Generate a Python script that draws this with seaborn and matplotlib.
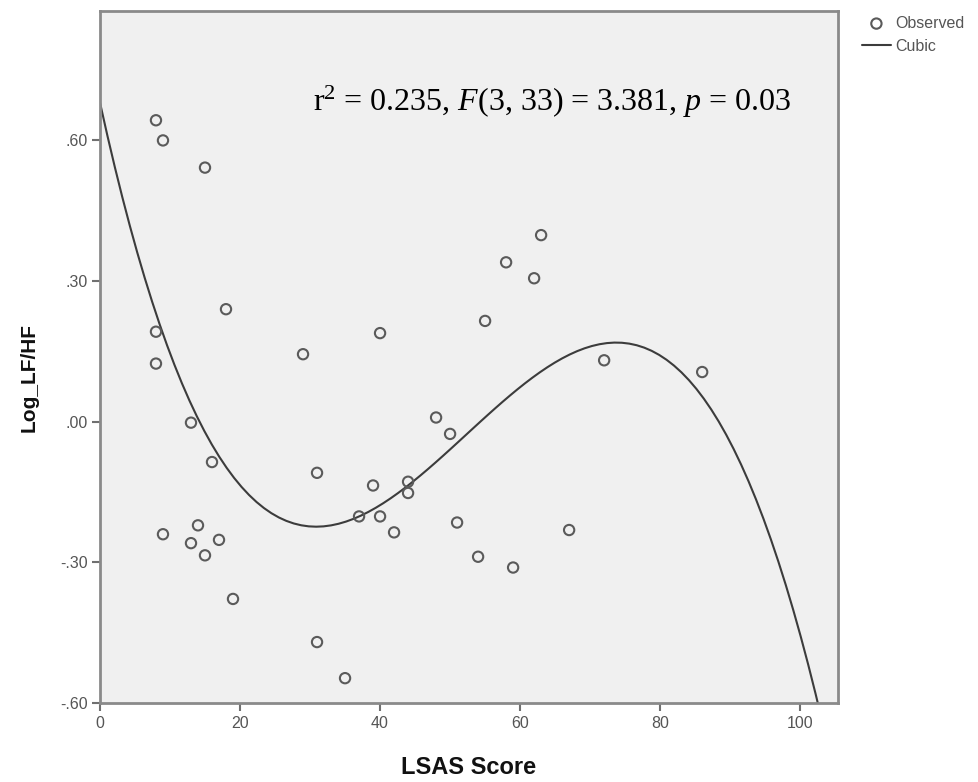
import numpy as np
import pandas as pd
import seaborn as sns
import matplotlib.pyplot as plt

# LSAS score vs Log_LF/HF
lsas = [8, 9, 15, 18, 8, 8, 13, 16, 9, 14, 13, 15, 17, 19,
        29, 31, 31, 35, 37, 39, 40, 40, 42, 44, 44, 48, 50, 51,
        54, 55, 58, 59, 62, 63, 67, 72, 86]
log_lfhf = [0.643, 0.600, 0.542, 0.240, 0.192, 0.124, -0.002, -0.086, -0.240, -0.221,
            -0.259, -0.285, -0.252, -0.378, 0.144, -0.109, -0.470, -0.547, -0.202, -0.136,
            0.189, -0.202, -0.236, -0.128, -0.152, 0.009, -0.026, -0.215, -0.288, 0.215,
            0.340, -0.311, 0.306, 0.398, -0.231, 0.131, 0.106]

xticks = [0, 20, 40, 60, 80, 100]
yticks = [-0.60, -0.30, 0.00, 0.30, 0.60]
ytick_labels = ["-.60", "-.30", ".00", ".30", ".60"]
stats_text = r"r$^2$ = 0.235, $F$(3, 33) = 3.381, $p$ = 0.03"

df = pd.DataFrame({"LSAS": lsas, "LogLFHF": log_lfhf})

sns.set_theme(style="white")
plt.rcParams["font.family"] = ["Liberation Sans", "DejaVu Sans"]
plt.rcParams["mathtext.fontset"] = "custom"
plt.rcParams["mathtext.rm"] = "Liberation Serif"
plt.rcParams["mathtext.it"] = "Liberation Serif:italic"

fig = plt.figure(figsize=(9.79, 7.82), dpi=100)
ax = fig.add_axes([0.1021, 0.101, 0.7539, 0.8849])
ax.set_facecolor("#f0f0f0")
ax.set_xlim(0, 105.4)
ax.set_ylim(-0.60, 0.876)

# observed points, hollow circles
sns.scatterplot(data=df, x="LSAS", y="LogLFHF", ax=ax, marker="o", s=55,
                facecolors="none", edgecolor="#5a5a5a", linewidth=1.5,
                label="Observed", zorder=3)

# cubic fit over the whole axis range
sns.regplot(data=df, x="LSAS", y="LogLFHF", ax=ax, order=3, ci=None,
            scatter=False, truncate=False, label="Cubic",
            line_kws={"color": "#3c3c3c", "linewidth": 1.5})

ax.set_xlim(0, 105.4)
ax.set_ylim(-0.60, 0.876)
ax.set_xticks(xticks)
ax.set_yticks(yticks)
ax.set_yticklabels(ytick_labels)
ax.tick_params(axis="both", direction="out", length=6, width=1.5,
               color="#707070", labelcolor="#555555", labelsize=11.5, pad=3,
               left=True, bottom=True)

for sp in ax.spines.values():
    sp.set_color("#8a8a8a")
    sp.set_linewidth(2)

ax.set_xlabel("LSAS Score", fontsize=17, fontweight="bold", color="#111111")
ax.set_ylabel("Log_LF/HF", fontsize=15, fontweight="bold", color="#111111")
ax.xaxis.set_label_coords(0.5, -0.077)
ax.yaxis.set_label_coords(-0.083, 0.47)

ax.text(0.289, 0.868, stats_text, transform=ax.transAxes, ha="left", va="center",
        fontsize=23, family="Liberation Serif", color="black")

ax.legend(loc="upper left", bbox_to_anchor=(0.874, 0.988), bbox_transform=fig.transFigure,
          frameon=False, fontsize=11.5, handlelength=1.8, handletextpad=0.3,
          labelspacing=0.5, borderaxespad=0, labelcolor="#555555")

fig.savefig("out.png", dpi=100)
